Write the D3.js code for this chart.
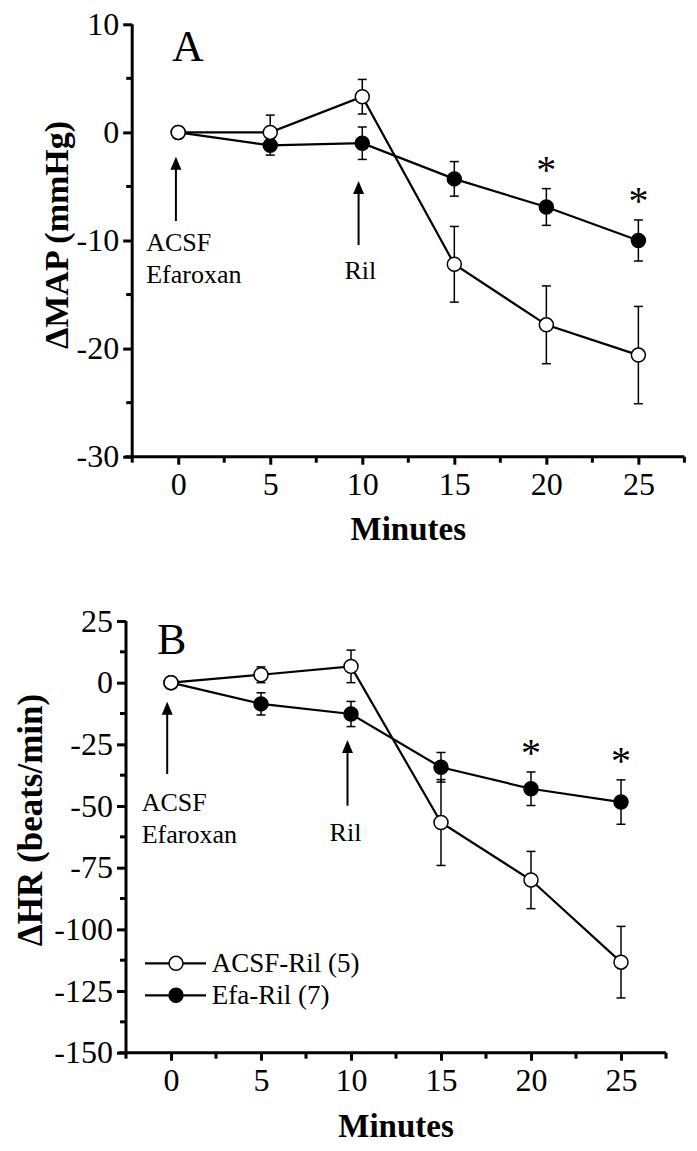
<!DOCTYPE html>
<html>
<head>
<meta charset="utf-8">
<script src="https://cdn.jsdelivr.net/npm/d3@7"></script>
<style>
  html, body { margin: 0; padding: 0; background: #fff; }
  svg { display: block; }
  svg text { font-family: 'Liberation Serif', 'Tinos', 'Times New Roman', 'DejaVu Serif', serif !important; fill: #000; }
</style>
</head>
<body>
<svg id="chart" width="697" height="1151" style="font-family: 'Liberation Serif', 'DejaVu Serif', serif"></svg>
<script>
// ---------------- data ----------------
const minutes = [0, 5, 10, 15, 20, 25];

const mapACSF   = [0, 0, 3.3, -12.2, -17.8, -20.6];
const mapACSFse = [0, 1.6, 1.6, 3.5, 3.6, 4.5];
const mapEfa    = [0, -1.2, -1.0, -4.3, -6.9, -10.0];
const mapEfaSe  = [0, 0.9, 1.5, 1.6, 1.7, 1.9];

const hrACSF    = [0, 3.2, 6.6, -56.7, -80.0, -113.3];
const hrACSFse  = [0, 3.2, 6.6, 17.4, 11.6, 14.5];
const hrEfa     = [0, -8.6, -12.7, -34.3, -43.0, -48.4];
const hrEfaSe   = [0, 4.5, 5.1, 6.0, 6.8, 9.0];

const significant = [20, 25];          // minutes marked with *
const xTicks = [0, 5, 10, 15, 20, 25];
const mapTicks = [10, 0, -10, -20, -30];
const hrTicks = [25, 0, -25, -50, -75, -100, -125, -150];
const seriesNames = ["ACSF-Ril (5)", "Efa-Ril (7)"];

// ---------------- drawing ----------------
const FONT = "'Liberation Serif', 'DejaVu Serif', serif";
const svg = d3.select("#chart");
svg.append("rect").attr("width", 697).attr("height", 1151).attr("fill", "#fff");

function panel(cfg) {
  const g = svg.append("g").attr("font-family", FONT);
  const x = d3.scaleLinear().domain([-2.5, 27.5]).range(cfg.xRange);
  const y = d3.scaleLinear().domain(cfg.yDomain).range(cfg.yRange);

  // axes
  const xAxis = d3.axisBottom(x).tickValues(xTicks).tickSize(8).tickPadding(8).tickFormat(d3.format("d"));
  const yAxis = d3.axisLeft(y).tickValues(cfg.yTicks).tickSize(9).tickPadding(4).tickFormat(d => d3.format("d")(d).replace("−", "-"));
  const gx = g.append("g").attr("transform", `translate(0,${cfg.yRange[0]})`).call(xAxis);
  const gy = g.append("g").attr("transform", `translate(${cfg.xRange[0]},0)`).call(yAxis);
  [gx, gy].forEach(a => {
    a.attr("font-family", FONT);
    a.select(".domain").attr("stroke", "#000").attr("stroke-width", 3);
    a.selectAll(".tick line").attr("stroke", "#000").attr("stroke-width", 3);
    a.selectAll(".tick text").attr("font-family", FONT).attr("font-size", cfg.tickFont).attr("fill", "#000");
  });
  gx.select(".domain").attr("d", `M${cfg.xRange[0] - 7},0H${cfg.xRange[1]}`);
  gy.select(".domain").attr("d", `M0,${cfg.yRange[0]}V${cfg.yRange[1]}`);

  // minor ticks
  const xMinor = [-2.5, 2.5, 7.5, 12.5, 17.5, 22.5, 27.5];
  g.append("g").selectAll("line").data(xMinor).join("line")
    .attr("x1", d => x(d)).attr("x2", d => x(d))
    .attr("y1", cfg.yRange[0]).attr("y2", cfg.yRange[0] + 6)
    .attr("stroke", "#000").attr("stroke-width", 3);
  const yMinor = d3.range(cfg.yTicks.length - 1).map(i => (cfg.yTicks[i] + cfg.yTicks[i + 1]) / 2);
  g.append("g").selectAll("line").data(yMinor).join("line")
    .attr("x1", cfg.xRange[0]).attr("x2", cfg.xRange[0] - 6)
    .attr("y1", d => y(d)).attr("y2", d => y(d))
    .attr("stroke", "#000").attr("stroke-width", 3);

  // axis titles
  g.append("text").attr("x", (cfg.xRange[0] + cfg.xRange[1]) / 2).attr("y", cfg.xTitleY)
    .attr("text-anchor", "middle").attr("font-weight", "bold").attr("font-size", cfg.titleFont)
    .text("Minutes");
  g.append("text").attr("transform", `translate(${cfg.yTitleX},${cfg.yTitleCY}) rotate(-90)`)
    .attr("text-anchor", "middle").attr("font-weight", "bold").attr("font-size", cfg.yTitleFont)
    .text(cfg.yTitle);

  // panel letter
  g.append("text").attr("x", cfg.letterX).attr("y", cfg.letterY).attr("font-size", cfg.letterFont).text(cfg.letter);

  // series
  const line = d3.line().x(d => x(d.t)).y(d => y(d.v));
  function drawSeries(vals, ses, filled) {
    const data = minutes.map((t, i) => ({ t, v: vals[i], se: ses[i] }));
    const sg = g.append("g");
    const eb = sg.append("g").selectAll("g").data(data.filter(d => d.se > 0)).join("g");
    eb.append("line").attr("x1", d => x(d.t)).attr("x2", d => x(d.t))
      .attr("y1", d => y(d.v - d.se)).attr("y2", d => y(d.v + d.se))
      .attr("stroke", "#000").attr("stroke-width", 1.5);
    eb.append("line").attr("x1", d => x(d.t) - 4.5).attr("x2", d => x(d.t) + 4.5)
      .attr("y1", d => y(d.v + d.se)).attr("y2", d => y(d.v + d.se))
      .attr("stroke", "#000").attr("stroke-width", 1.5);
    eb.append("line").attr("x1", d => x(d.t) - 4.5).attr("x2", d => x(d.t) + 4.5)
      .attr("y1", d => y(d.v - d.se)).attr("y2", d => y(d.v - d.se))
      .attr("stroke", "#000").attr("stroke-width", 1.5);
    sg.append("path").datum(data).attr("d", line).attr("fill", "none")
      .attr("stroke", "#000").attr("stroke-width", 2.2);
    sg.append("g").selectAll("circle").data(data).join("circle")
      .attr("cx", d => x(d.t)).attr("cy", d => y(d.v)).attr("r", 7)
      .attr("fill", filled ? "#000" : "#fff").attr("stroke", "#000").attr("stroke-width", 1.5);
  }
  drawSeries(cfg.efa, cfg.efaSe, true);
  drawSeries(cfg.acsf, cfg.acsfSe, false);

  // significance asterisks above Efa error bars
  significant.forEach(t => {
    const i = minutes.indexOf(t);
    g.append("text").attr("x", x(t)).attr("y", y(cfg.efa[i] + cfg.efaSe[i]) - cfg.starGap)
      .attr("text-anchor", "middle").attr("font-size", 40).text("*");
  });

  // arrows + labels
  function arrow(px, yTip, yTail) {
    g.append("line").attr("x1", px).attr("x2", px).attr("y1", yTip + 10).attr("y2", yTail)
      .attr("stroke", "#000").attr("stroke-width", 2);
    g.append("path").attr("d", `M${px},${yTip}L${px - 5.5},${yTip + 13}L${px + 5.5},${yTip + 13}Z`).attr("fill", "#000");
  }
  const a = cfg.ann;
  arrow(x(0) + a.dx0, a.tip0, a.tail0);
  arrow(x(10) + a.dx10, a.tip10, a.tail10);
  g.append("text").attr("x", x(0) + a.tx0).attr("y", a.ty0).attr("font-size", 26).text("ACSF");
  g.append("text").attr("x", x(0) + a.tx0).attr("y", a.ty0 + 32).attr("font-size", 26).text("Efaroxan");
  g.append("text").attr("x", x(10) + a.tx10).attr("y", a.ty10).attr("text-anchor", "middle").attr("font-size", 26).text("Ril");

  return { g, x, y };
}

panel({
  xRange: [132.2, 684.4], yDomain: [-30, 10], yRange: [456.7, 24.3], yTicks: mapTicks,
  acsf: mapACSF, acsfSe: mapACSFse, efa: mapEfa, efaSe: mapEfaSe,
  tickFont: 32, titleFont: 33, yTitleFont: 34, xTitleY: 540, yTitleX: 68, yTitleCY: 235, yTitle: "ΔMAP (mmHg)",
  letter: "A", letterX: 172, letterY: 61, letterFont: 44, starGap: 6,
  ann: { dx0: -2.3, tip0: 156.7, tail0: 221, dx10: -3.7, tip10: 181, tail10: 245,
         tx0: -32, ty0: 250.7, tx10: -2, ty10: 279.3 }
});

const pB = panel({
  xRange: [126, 666], yDomain: [-150, 25], yRange: [1052.7, 621], yTicks: hrTicks,
  acsf: hrACSF, acsfSe: hrACSFse, efa: hrEfa, efaSe: hrEfaSe,
  tickFont: 32, titleFont: 33, yTitleFont: 35, xTitleY: 1136.7, yTitleX: 42, yTitleCY: 820, yTitle: "ΔHR (beats/min)",
  letter: "B", letterX: 157, letterY: 654.3, letterFont: 44, starGap: 6,
  ann: { dx0: -3.8, tip0: 701.7, tail0: 774, dx10: -3.5, tip10: 740, tail10: 805.7,
         tx0: -29.3, ty0: 810.7, tx10: -5.5, ty10: 840.7 }
});

// legend (panel B)
const leg = pB.g.append("g");
const legY = [963.3, 995.3];
seriesNames.forEach((name, i) => {
  leg.append("line").attr("x1", 145).attr("x2", 206).attr("y1", legY[i]).attr("y2", legY[i])
    .attr("stroke", "#000").attr("stroke-width", 2.2);
  leg.append("circle").attr("cx", 176).attr("cy", legY[i]).attr("r", 7)
    .attr("fill", i === 0 ? "#fff" : "#000").attr("stroke", "#000").attr("stroke-width", 1.5);
  leg.append("text").attr("x", 211.7).attr("y", legY[i] + 8.5).attr("font-size", 27).text(name);
});
</script>
</body>
</html>
